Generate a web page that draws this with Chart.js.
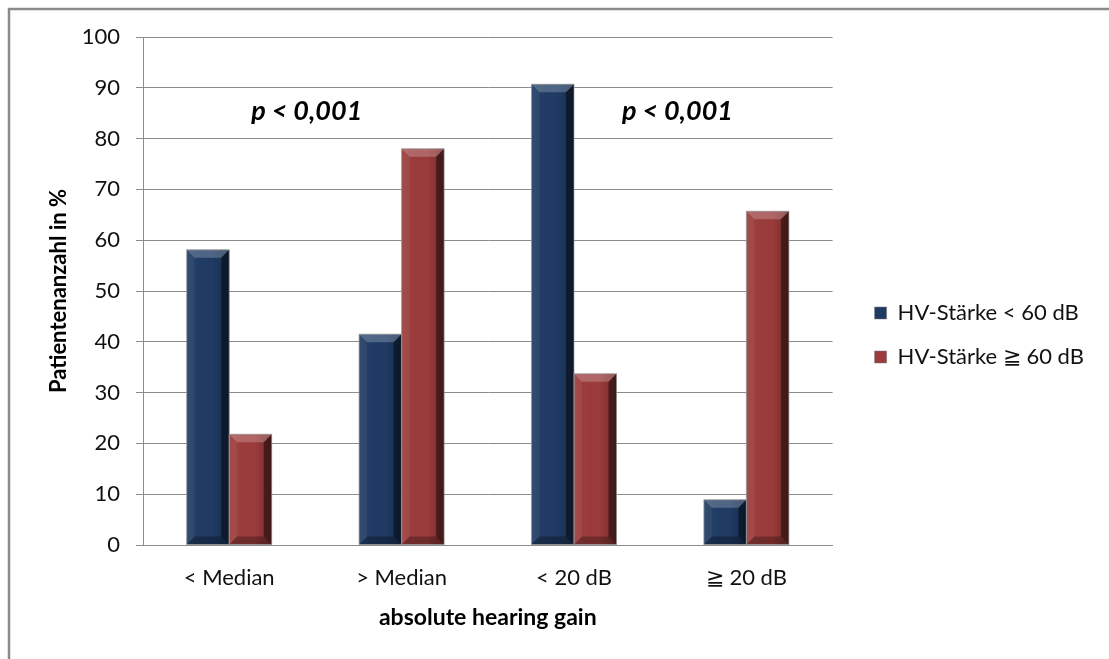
<!DOCTYPE html>
<html>
<head>
<meta charset="utf-8">
<script src="https://cdn.jsdelivr.net/npm/chart.js@4.4.1/dist/chart.umd.min.js"></script>
<style>
  html, body { margin: 0; padding: 0; background: #fff; }
  #wrap { width: 1109px; height: 659px; }
</style>
</head>
<body>
<div id="wrap"><canvas id="hvChart" width="1109" height="659"></canvas></div>
<script>
const categories = ['< Median', '> Median', '< 20 dB', '\u2267 20 dB'];
const seriesNames = ['HV-St\u00e4rke < 60 dB', 'HV-St\u00e4rke \u2267 60 dB'];
const below60 = [58.1, 41.5, 90.7, 8.9];
const above60 = [21.8, 78.0, 33.7, 65.7];
const yTicks = [0, 10, 20, 30, 40, 50, 60, 70, 80, 90, 100];
const pLabels = ['p < 0,001', 'p < 0,001'];

const FONT = 'Lato, "Open Sans", sans-serif';
const colors = ['#1f3b64', '#9b3b3b'];

// white sheet with the grey frame on top and left
const framePlugin = {
  id: 'frame',
  beforeDraw(chart) {
    const ctx = chart.ctx;
    ctx.save();
    ctx.fillStyle = '#fff';
    ctx.fillRect(0, 0, chart.width, chart.height);
    ctx.strokeStyle = '#8a8a8a';
    ctx.lineWidth = 2.5;
    ctx.beginPath();
    ctx.moveTo(9, chart.height + 2);
    ctx.lineTo(9, 9);
    ctx.lineTo(chart.width + 2, 9);
    ctx.stroke();
    ctx.restore();
  }
};

// bevelled look on top of the flat bars
const bevelPlugin = {
  id: 'bevel',
  afterDatasetsDraw(chart) {
    const ctx = chart.ctx;
    ctx.save();
    chart.data.datasets.forEach((ds, di) => {
      chart.getDatasetMeta(di).data.forEach(bar => {
        const L = bar.x - bar.width / 2, R = bar.x + bar.width / 2;
        const T = bar.y, B = bar.base;
        const s = Math.min(8, (B - T) / 2);
        const poly = (pts, fill) => {
          ctx.beginPath();
          ctx.moveTo(pts[0][0], pts[0][1]);
          pts.slice(1).forEach(p => ctx.lineTo(p[0], p[1]));
          ctx.closePath();
          ctx.fillStyle = fill;
          ctx.fill();
        };
        // face shading, darker towards the right
        const g = ctx.createLinearGradient(L, 0, R, 0);
        g.addColorStop(0, 'rgba(255,255,255,0.04)');
        g.addColorStop(0.6, 'rgba(0,0,0,0)');
        g.addColorStop(1, 'rgba(0,0,0,0.25)');
        ctx.fillStyle = g;
        ctx.fillRect(L, T, R - L, B - T);
        poly([[L, T], [L + s, T + s], [L + s, B - s], [L, B]], 'rgba(255,255,255,0.05)');
        poly([[R, T], [R, B], [R - s, B - s], [R - s, T + s]], 'rgba(0,0,0,0.45)');
        poly([[L, T], [R, T], [R - s, T + s], [L + s, T + s]], 'rgba(255,255,255,0.22)');
        poly([[L, B], [L + s, B - s], [R - s, B - s], [R, B]], 'rgba(0,0,0,0.28)');
        ctx.strokeStyle = 'rgba(150,150,150,0.7)';
        ctx.lineWidth = 1;
        ctx.strokeRect(L, T, R - L, B - T);
      });
    });
    ctx.restore();
  }
};

// significance notes between the category pairs
const pValuePlugin = {
  id: 'pValues',
  afterDraw(chart) {
    const ctx = chart.ctx;
    const x = chart.scales.x, y = chart.scales.y;
    ctx.save();
    ctx.font = 'italic bold 27px ' + FONT;
    ctx.fillStyle = '#000';
    ctx.textAlign = 'center';
    ctx.textBaseline = 'middle';
    ctx.fillText(pLabels[0], x.getPixelForValue(0.45), y.getPixelForValue(85.3));
    ctx.fillText(pLabels[1], x.getPixelForValue(2.6), y.getPixelForValue(85.3));
    ctx.restore();
  }
};

new Chart(document.getElementById('hvChart'), {
  type: 'bar',
  data: {
    labels: categories,
    datasets: [
      { label: seriesNames[0], data: below60, backgroundColor: colors[0], borderWidth: 0 },
      { label: seriesNames[1], data: above60, backgroundColor: colors[1], borderWidth: 0 }
    ]
  },
  options: {
    responsive: false,
    animation: false,
    devicePixelRatio: 1,
    categoryPercentage: 0.493,
    barPercentage: 1,
    layout: { padding: { left: 42, top: 37, right: 15, bottom: 26 } },
    scales: {
      x: {
        grid: { display: false, drawTicks: false },
        border: { display: true, color: '#8c8c8c', width: 1 },
        ticks: { color: '#111', font: { family: FONT, size: 22 }, padding: 20 },
        title: { display: true, text: 'absolute hearing gain', color: '#000',
                 padding: { top: 4, bottom: 2 },
                 font: { family: FONT, size: 23, weight: 'bold' } },
        afterFit(scale) { scale.height = 88; }
      },
      y: {
        min: 0,
        max: 100,
        afterBuildTicks(scale) { scale.ticks = yTicks.map(v => ({ value: v })); },
        grid: { color: '#8c8c8c', lineWidth: 1, tickLength: 7 },
        border: { display: true, color: '#8c8c8c', width: 1 },
        ticks: { color: '#111', font: { family: FONT, size: 22 }, padding: 16 },
        title: { display: true, text: 'Patientenanzahl in %', color: '#000',
                 font: { family: FONT, size: 22, weight: 'bold' } },
        afterFit(scale) { scale.width = 101; }
      },
      gap: {
        position: 'right',
        display: true,
        grid: { display: false },
        border: { display: false },
        ticks: { display: false },
        afterFit(scale) { scale.width = 20; }
      }
    },
    plugins: {
      legend: {
        position: 'right',
        maxWidth: 300,
        labels: {
          color: '#111',
          font: { family: FONT, size: 22 },
          boxWidth: 12,
          boxHeight: 12,
          padding: 22,
          generateLabels(chart) {
            return chart.data.datasets.map((ds, i) => ({
              text: ds.label,
              fillStyle: colors[i],
              strokeStyle: '#777',
              lineWidth: 0.5,
              fontColor: '#111',
              datasetIndex: i
            }));
          }
        }
      },
      tooltip: { enabled: false }
    }
  },
  plugins: [framePlugin, bevelPlugin, pValuePlugin]
});
</script>
</body>
</html>
